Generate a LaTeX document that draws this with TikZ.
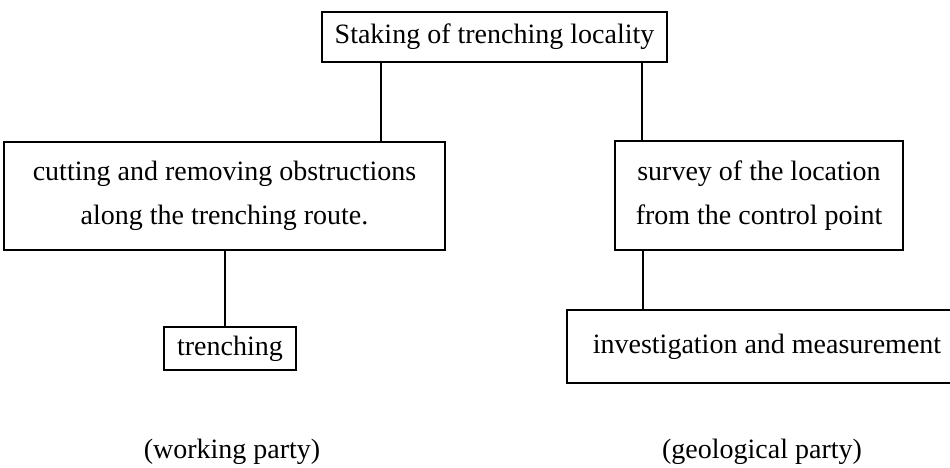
\documentclass[tikz,border=0pt]{standalone}
\usepackage{fontspec}
\setmainfont{Liberation Serif}
\usepackage{tikz}

\begin{document}
\begin{tikzpicture}[x=1pt,y=-1pt,
    box/.style={draw, line width=1.2pt, align=center, inner sep=0pt,
      font=\fontsize{28}{44}\selectfont},
    party/.style={font=\fontsize{28}{34}\selectfont}]
      \useasboundingbox (0,0) rectangle (950,468);
      \node [box, minimum width=345pt, minimum height=50pt] (stake) at (494.5,37) {Staking of trenching locality};
      \node [box, minimum width=441pt, minimum height=108pt] (cut) at (224.5,196) {cutting and removing obstructions\\along the trenching route.};
      \node [box, minimum width=288pt, minimum height=109pt] (survey) at (759,195.5) {survey of the location\\from the control point};
      \node [box, minimum width=132pt, minimum height=43pt] (trench) at (230,348.5) {trenching};
      \node [box, minimum width=400pt, minimum height=73pt] (invest) at (767,346.5) {investigation and measurement};
      \node [party] (work) at (232,452) {(working party)};
      \node [party] (geo) at (762,452) {(geological party)};
      \coordinate (l1) at (381,0);
      \coordinate (r1) at (642,0);
      \coordinate (l2) at (225,0);
      \coordinate (r2) at (643,0);
      \draw [line width=1.2pt] (stake.south -| l1) -- (cut.north -| l1);
      \draw [line width=1.2pt] (stake.south -| r1) -- (survey.north -| r1);
      \draw [line width=1.2pt] (cut.south -| l2) -- (trench.north -| l2);
      \draw [line width=1.2pt] (survey.south -| r2) -- (invest.north -| r2);
    \end{tikzpicture}
\end{document}
